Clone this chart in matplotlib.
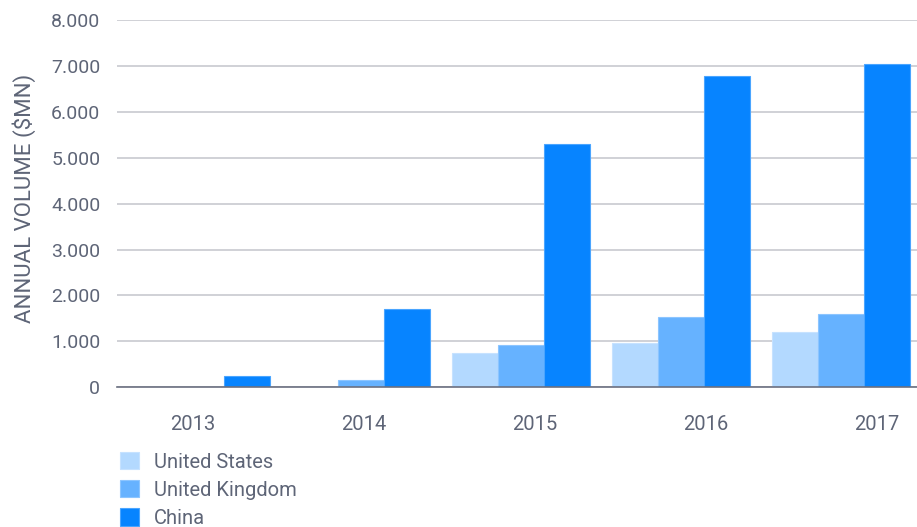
import matplotlib
matplotlib.use("Agg")
import matplotlib.pyplot as plt
import numpy as np
from matplotlib.ticker import FuncFormatter

# annual volume in $MN per country
years = ["2013", "2014", "2015", "2016", "2017"]
united_states = [0, 0, 750, 970, 1200]
united_kingdom = [0, 150, 920, 1530, 1590]
china = [250, 1700, 5300, 6770, 7050]

series = [
    ("United States", united_states, "#b3d9ff", "#c6e2ff"),
    ("United Kingdom", united_kingdom, "#66b2ff", "#8cc5ff"),
    ("China", china, "#0784ff", "#4aa5ff"),
]

TEXT = "#5e6577"
GRID = "#c8cad0"

plt.rcParams["font.family"] = ["Roboto", "DejaVu Sans"]

fig = plt.figure(figsize=(9.17, 5.27), dpi=100)
ax = fig.add_axes([117 / 917, 139.7 / 527, 800 / 917, 367.3 / 527])

x = np.arange(len(years))
width = 0.2875
for i, (name, vals, color, edge) in enumerate(series):
    ax.bar(x + (i - 1) * width, vals, width, color=color, edgecolor=edge,
           linewidth=0.8, label=name, zorder=3)

ax.set_xlim(-0.525, 4.475)
ax.set_ylim(0, 8000)
ax.set_yticks(np.arange(0, 8001, 1000))
ax.yaxis.set_major_formatter(FuncFormatter(lambda v, p: f"{int(v):,}".replace(",", ".")))

# year labels sit on a slightly wider spacing than the bar groups
ax.set_xticks(x * 1.069 - 0.05)
ax.set_xticklabels(years)

ax.grid(axis="y", color=GRID, linewidth=1.2, zorder=0)
for s in ["top", "right", "left"]:
    ax.spines[s].set_visible(False)
ax.spines["bottom"].set_color("#6b7080")
ax.spines["bottom"].set_linewidth(1.2)
ax.spines["bottom"].set_zorder(4)

ax.tick_params(axis="both", length=0, colors=TEXT)
ax.tick_params(axis="y", pad=12, labelsize=14)
ax.tick_params(axis="x", pad=20, labelsize=14.5)

ax.set_ylabel("ANNUAL VOLUME ($MN)", color=TEXT, fontsize=16)
ax.yaxis.set_label_coords((36 - 117) / 800, (387.3 - 198.5) / 367.3)

leg = fig.legend(loc="upper left", bbox_to_anchor=(112 / 917, 1 - 444 / 527),
                 frameon=False, fontsize=14.5, handlelength=0.95, handleheight=0.95,
                 handletextpad=0.75, labelspacing=0.42, borderaxespad=0)
for t in leg.get_texts():
    t.set_color(TEXT)

fig.savefig("out.png", dpi=100)
